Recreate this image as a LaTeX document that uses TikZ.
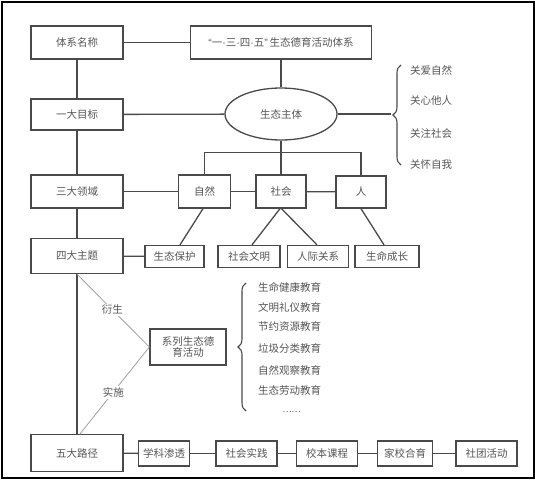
\documentclass[tikz,border=0pt]{standalone}
\usepackage{fontspec}
\setmainfont{Noto Sans CJK SC}
\newfontfamily\latinf{Liberation Sans}
\usetikzlibrary{shapes.geometric,decorations.pathreplacing}
\definecolor{linecol}{HTML}{4A4A4A}
\definecolor{txtcol}{HTML}{555555}
\definecolor{thincol}{HTML}{A0A0A0}
\begin{document}
\begin{tikzpicture}[x=1pt,y=-1pt,
  font=\fontsize{10.5}{12}\selectfont,
  box/.style={draw=linecol,line width=1.3pt,text=txtcol,inner sep=0pt,align=center},
  conn/.style={draw=linecol,line width=1.3pt},
  thin/.style={draw=thincol,line width=0.8pt},
  lbl/.style={text=txtcol,inner sep=1pt,anchor=west},
  brc/.style={draw=linecol,line width=1.1pt,decorate,decoration={brace,amplitude=8pt}}]
\useasboundingbox (0,0) rectangle (535,479);
\draw[line width=2pt,black] (1.5,1.5) rectangle (533.5,477.5);
% left column
\node[box,minimum width=92pt,minimum height=33pt] (n1) at (77,42.5) {体系名称};
\node[box,minimum width=92pt,minimum height=31pt] (n2) at (77,114.5) {一大目标};
\node[box,minimum width=92pt,minimum height=33pt] (n3) at (77,191.5) {三大领域};
\node[box,minimum width=92pt,minimum height=35pt] (n4) at (77,256) {四大主题};
\node[box,minimum width=92pt,minimum height=37pt] (n5) at (77,453) {五大路径};
% top
\node[box,minimum width=181pt,minimum height=33pt] (title) at (281,42.5) {{\latinf “}一{\latinf ·}三{\latinf ·}四{\latinf ·}五{\latinf ”}\,生态德育活动体系};
\node[box,ellipse,minimum width=112pt,minimum height=52pt] (body) at (281,114) {生态主体};
% domains
\node[box,minimum width=52pt,minimum height=33pt] (ziran) at (204.5,191.5) {自然};
\node[box,minimum width=50pt,minimum height=33pt] (shehui) at (281,191.5) {社会};
\node[box,minimum width=50pt,minimum height=32pt] (ren) at (361,192) {人};
% themes
\node[box,minimum width=59pt,minimum height=22pt] (baohu) at (174.5,256.5) {生态保护};
\node[box,minimum width=62pt,minimum height=22pt] (wenming) at (249,256.5) {社会文明};
\node[box,minimum width=61pt,minimum height=22pt] (guanxi) at (318,256.5) {人际关系};
\node[box,minimum width=64pt,minimum height=22pt] (chengzhang) at (387,256.5) {生命成长};
% paths
\node[box,minimum width=51pt,minimum height=25pt] (xueke) at (164,453.5) {学科渗透};
\node[box,minimum width=61pt,minimum height=25pt] (shijian) at (246.5,453.5) {社会实践};
\node[box,minimum width=61pt,minimum height=25pt] (kecheng) at (327,453.5) {校本课程};
\node[box,minimum width=55pt,minimum height=25pt] (heyu) at (405,453.5) {家校合育};
\node[box,minimum width=61pt,minimum height=25pt] (shetuan) at (486.5,453.5) {社团活动};
% series
\node[box,minimum width=76pt,minimum height=36pt] (xilie) at (188,347) {系列生态德\\[-1pt]育活动};
% left column connectors
\draw[conn] (n1) -- (n2);
\draw[conn] (n2) -- (n3);
\draw[conn] (n3) -- (n4);
\draw[conn] (n4) -- (n5);
\draw[conn] (n1) -- (title);
\draw[conn] (title) -- (body);
\draw[conn] (n2) -- (body);
% body to domains
\coordinate (barL) at (204.5,152.7);
\coordinate (barM) at (281,152.7);
\coordinate (barR) at (361,152.7);
\draw[conn] (body.south) -- (barM);
\draw[conn] (ziran.north) -- (barL) -- (barR) -- (ren.north);
\draw[conn] (barM) -- (shehui.north);
\draw[conn] (n3) -- (ziran);
\draw[conn] (ziran) -- (shehui);
\draw[conn] (shehui) -- (ren);
% domains to themes
\draw[conn] ([xshift=-1.5pt]ziran.south) -- ([xshift=5.5pt]baohu.north);
\draw[conn] ([xshift=-1pt]shehui.south) -- ([xshift=3pt]wenming.north);
\draw[conn] ([xshift=0.5pt]shehui.south) -- ([xshift=-1pt]guanxi.north);
\draw[conn] (ren.south) -- ([xshift=-3pt]chengzhang.north);
\draw[conn] (n4) -- (baohu);
% paths
\draw[conn] (n5) -- (xueke);
\draw[conn] (xueke) -- (shijian);
\draw[conn] (shijian) -- (kecheng);
\draw[conn] (kecheng) -- (heyu);
\draw[conn] (heyu) -- (shetuan);
% derive / implement
\draw[thin] (n4.south) -- node[fill=white,text=txtcol,inner sep=1.5pt,pos=0.49] {衍生} (xilie.west);
\draw[thin] (xilie.west) -- node[fill=white,text=txtcol,inner sep=1.5pt,pos=0.52] {实施} ([xshift=3pt]n5.north);
% brace 1
\coordinate (b1top) at (401,65);
\coordinate (b1bot) at (401,165);
\coordinate (b1tip) at (391,114);
\draw[brc] (b1bot) -- (b1top);
\draw[conn] (body.east) -- (b1tip);
\node[lbl] (g1) at (409,70.7) {关爱自然};
\node[lbl] (g2) at (409,100.7) {关心他人};
\node[lbl] (g3) at (409,133.3) {关注社会};
\node[lbl] (g4) at (409,165) {关怀自我};
% brace 2
\coordinate (b2top) at (246,283);
\coordinate (b2bot) at (246,411);
\draw[brc] (b2bot) -- (b2top);
\node[lbl] (e1) at (257,287.7) {生命健康教育};
\node[lbl] (e2) at (257,307.7) {文明礼仪教育};
\node[lbl] (e3) at (257,326.7) {节约资源教育};
\node[lbl] (e4) at (257,348.3) {垃圾分类教育};
\node[lbl] (e5) at (257,370) {自然观察教育};
\node[lbl] (e6) at (257,390) {生态劳动教育};
\node[text=txtcol,font=\fontsize{8.5}{9}\selectfont] (e7) at (291.5,412) {……};
\end{tikzpicture}
\end{document}
